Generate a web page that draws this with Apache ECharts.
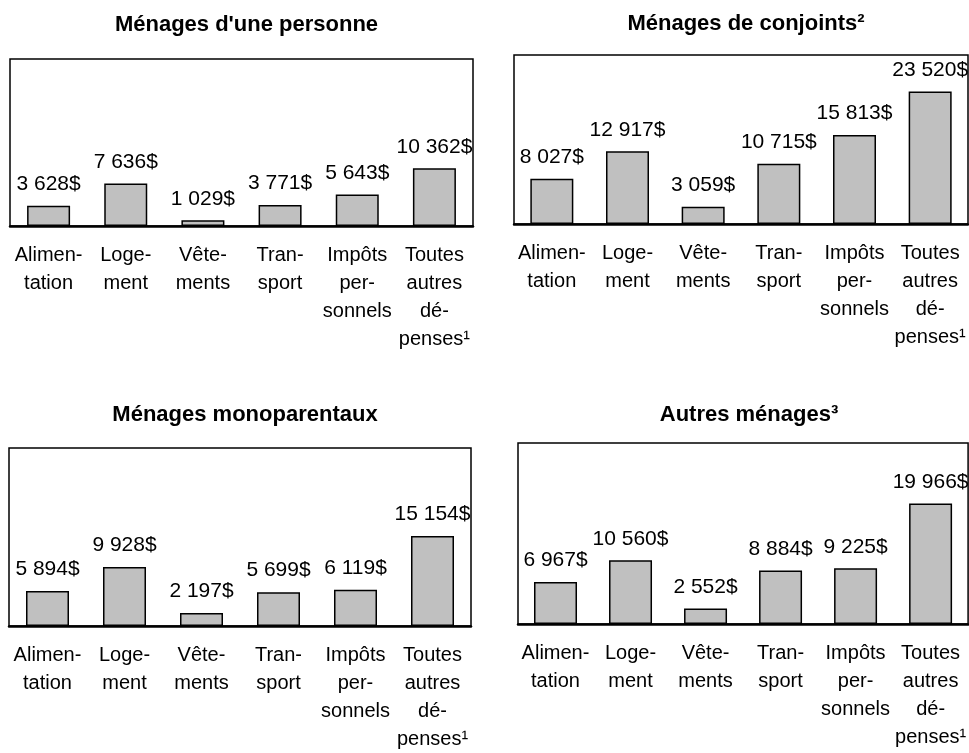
<!DOCTYPE html>
<html>
<head>
<meta charset="utf-8">
<script src="https://cdn.jsdelivr.net/npm/echarts@6/dist/echarts.min.js"></script>
<style>
  html, body { margin: 0; padding: 0; background: #fff; }
  #chart { width: 969px; height: 753px; }
</style>
</head>
<body>
<div id="chart"></div>
<script>
// catégories de dépenses (retours à la ligne comme dans l'original)
const categories = [
  'Alimen-\ntation',
  'Loge-\nment',
  'Vête-\nments',
  'Tran-\nsport',
  'Impôts\nper-\nsonnels',
  'Toutes\nautres\ndé-\npenses¹'
]
const panelTitles = [
  "Ménages d'une personne",
  'Ménages de conjoints²',
  'Ménages monoparentaux',
  'Autres ménages³'
]
const personneValues = [3628, 7636, 1029, 3771, 5643, 10362]
const conjointsValues = [8027, 12917, 3059, 10715, 15813, 23520]
const monoparentauxValues = [5894, 9928, 2197, 5699, 6119, 15154]
const autresValues = [6967, 10560, 2552, 8884, 9225, 19966]
const yMax = 30000

const seriesValues = [personneValues, conjointsValues, monoparentauxValues, autresValues]

// boites des 4 graphiques
const grids = [
  { left: 10, top: 59, width: 463, height: 167 },
  { left: 514, top: 55, width: 454, height: 169 },
  { left: 9, top: 448, width: 462, height: 180 },
  { left: 518, top: 443, width: 452, height: 181 }
]
const titleTops = [9, 8, 399, 399]

const fmt = v => String(v).replace(/\B(?=(\d{3})+(?!\d))/g, ' ') + '$'

const chart = echarts.init(document.getElementById('chart'))

const option = {
  animation: false,
  backgroundColor: '#fff',
  textStyle: { fontFamily: 'Liberation Sans, Arial, sans-serif' },
  title: panelTitles.map((t, i) => ({
    text: t,
    left: grids[i].left + grids[i].width / 2,
    top: titleTops[i],
    textAlign: 'center',
    textStyle: {
      fontFamily: 'Liberation Sans, Arial, sans-serif',
      fontWeight: 'bold',
      fontSize: 22,
      color: '#000'
    }
  })),
  grid: grids.map(g => ({
    left: g.left,
    top: g.top,
    width: g.width,
    height: g.height,
    show: true,
    borderColor: '#000',
    borderWidth: 1.5,
    containLabel: false
  })),
  xAxis: grids.map((g, i) => ({
    type: 'category',
    gridIndex: i,
    data: categories,
    axisLine: { show: true, lineStyle: { color: '#000', width: 2.5 } },
    axisTick: { show: false },
    axisLabel: {
      interval: 0,
      margin: 15,
      fontSize: 20,
      lineHeight: 28,
      color: '#000',
      fontFamily: 'Liberation Sans, Arial, sans-serif'
    }
  })),
  yAxis: grids.map((g, i) => ({
    type: 'value',
    gridIndex: i,
    min: 0,
    max: yMax,
    show: false,
    splitLine: { show: false }
  })),
  series: seriesValues.map((vals, i) => ({
    type: 'bar',
    xAxisIndex: i,
    yAxisIndex: i,
    data: vals,
    barWidth: 43,
    itemStyle: {
      color: '#c0c0c0',
      borderColor: '#000',
      borderWidth: 1.5
    },
    label: {
      show: true,
      position: 'top',
      distance: 11,
      fontSize: 21,
      lineHeight: 21,
      color: '#000',
      fontFamily: 'Liberation Sans, Arial, sans-serif',
      formatter: p => fmt(p.value)
    }
  }))
}

chart.setOption(option)
</script>
</body>
</html>
